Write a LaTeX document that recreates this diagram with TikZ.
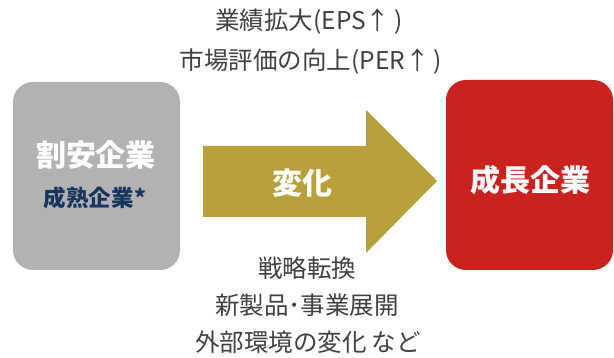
\documentclass[tikz,border=0pt]{standalone}
\usepackage{fontspec}
\setmainfont{Noto Sans CJK JP}
\definecolor{boxgrey}{HTML}{B2B2B2}
\definecolor{boxred}{HTML}{C9221F}
\definecolor{arrowgold}{HTML}{B8A03A}
\definecolor{navy}{HTML}{17365D}
\definecolor{txtgrey}{HTML}{404040}
\begin{document}
\begin{tikzpicture}[x=1pt,y=-1pt,
  card/.style={rounded corners=20pt},
  note/.style={text=txtgrey,font=\fontsize{24.5}{28}\selectfont,inner sep=0pt,anchor=center},
  boxlabel/.style={text=white,font=\fontsize{30}{34}\selectfont\bfseries,inner sep=0pt}]
\useasboundingbox[fill=white] (0,0) rectangle (614,358);
% grey box
\fill[boxgrey,card] (13,82) rectangle (180,270);
\node[boxlabel] (cheap) at (96,155) {割安企業};
\node[text=navy,font=\fontsize{22.5}{26}\selectfont\bfseries,inner sep=0pt] (mature) at (95,198) {成熟企業\kern1pt*};
% red box
\fill[boxred,card] (446,80) rectangle (613,270);
\node[boxlabel] (growth) at (530,180) {成長企業};
% arrow
\fill[arrowgold] (203,146) -- (366,146) -- (366,110) -- (437,181) -- (366,253) -- (366,217) -- (203,217) -- cycle;
\node[boxlabel] (change) at (302,183) {変化};
% notes
\node[note] (eps) at (309,22) {業績拡大(EPS↑\kern4pt)};
\node[note] (per) at (311,62) {市場評価の向上(PER↑\kern4pt)};
\node[note] (strat) at (307,268) {戦略転換};
\node[note] (newprod) at (307,305) {新製品･事業展開};
\node[note] (ext) at (308,342) {外部環境の変化\ など};
\end{tikzpicture}
\end{document}
